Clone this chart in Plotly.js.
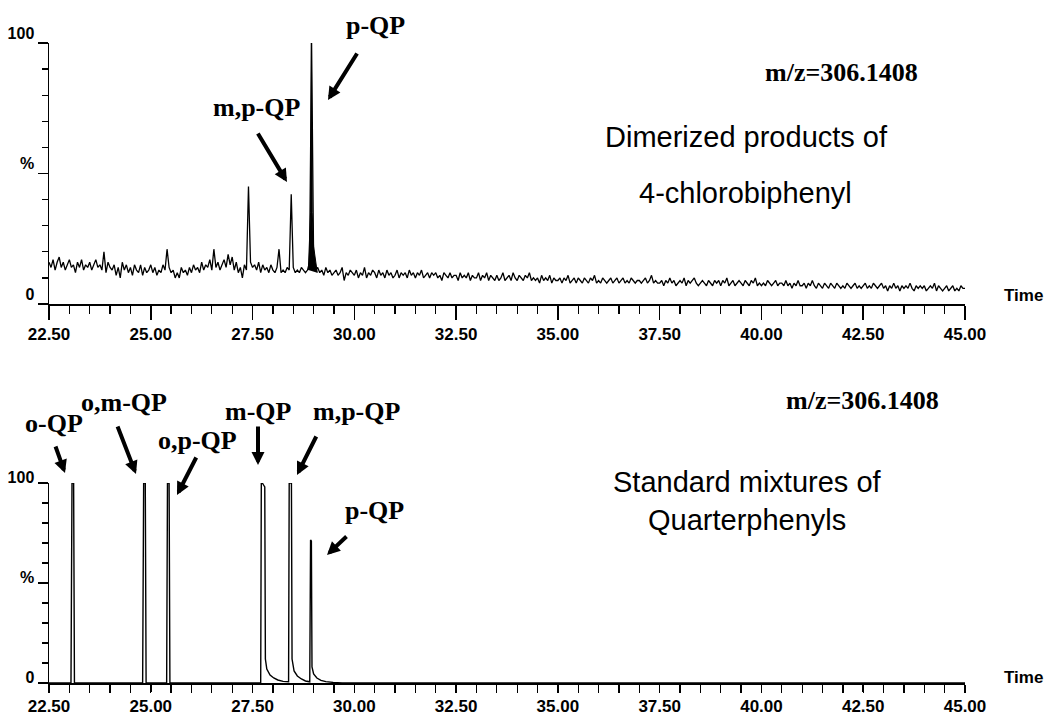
<!DOCTYPE html>
<html><head><meta charset="utf-8">
<script src="https://cdn.plot.ly/plotly-3.0.1.min.js"></script>
<style>html,body{margin:0;padding:0;background:#fff}#chart{width:1044px;height:717px}</style>
</head><body><div id="chart"></div>
<script>
// ---- data ----
const xTickVals = [22.5, 25, 27.5, 30, 32.5, 35, 37.5, 40, 42.5, 45];
const xTickText = ["22.50", "25.00", "27.50", "30.00", "32.50", "35.00", "37.50", "40.00", "42.50", "45.00"];
const yTickVals = [0, 50, 100];
const yTickText = ["0", "%", "100"];

// top chromatogram: sampled every 0.05 min from 22.50 to 45.00
const topStartTime = 22.5;
const topSampleStep = 0.05;
const topIntensity = [
16,14,17,13,16,18,14,16,13,15,
17,14,15,12,16,14,17,13,15,14,
16,13,15,17,14,15,13,20,12,16,
14,13,15,11,14,10,16,13,15,12,
14,11,15,13,12,15,11,14,12,13,
15,12,14,11,13,12,15,13,21,14,
12,13,10,12,10,14,12,13,11,14,
12,15,13,14,12,16,13,15,14,17,
13,21,14,16,13,15,17,14,19,15,
18,13,16,12,14,10,15,13,45,16,
14,15,13,16,12,15,13,14,12,15,
13,12,14,21,12,13,12,14,13,42,
14,12,13,12,14,13,12,13,16,100,
17,13,14,12,13,11,14,12,13,11,
12,13,11,12,14,9,12,11,13,12,
11,13,10,12,11,14,10,12,11,13,
12,10,13,11,12,10,13,11,12,10,
11,13,10,12,11,12,10,13,11,12,
10,12,11,13,10,11,12,10,12,11,
12,10,11,9,12,11,10,12,10,11,
11,9,12,10,11,10,12,9,11,10,
10,12,9,11,10,12,9,11,10,9,
11,9,10,12,9,10,11,9,12,10,
9,11,10,9,11,10,12,9,10,9,
10,8,11,9,10,9,11,8,10,9,
9,10,8,10,9,11,8,9,10,8,
10,9,8,10,9,8,10,9,11,8,
9,8,10,9,8,9,10,8,9,10,
8,9,10,8,9,8,10,9,8,9,
9,8,9,10,8,9,11,8,9,8,
8,9,7,9,8,10,8,9,7,8,
9,8,10,7,9,8,9,10,8,7,
8,9,8,7,9,8,7,9,8,9,
7,9,8,10,7,8,9,7,8,9,
8,7,9,8,7,9,8,10,7,8,
7,8,7,9,8,7,8,9,7,8,
8,7,9,7,8,6,8,7,9,7,
7,8,6,8,7,9,7,6,8,7,
6,8,7,6,8,7,6,8,7,6,
7,6,8,7,6,7,8,6,7,6,
7,8,6,7,6,8,7,6,7,8,
6,7,5,7,6,8,6,7,5,7,
6,7,6,8,6,5,7,6,7,6,
7,5,6,7,6,8,5,7,6,5,
6,7,5,6,7,5,6,5,7,6,
6
];
// filled base of the big p-QP peak in the top trace
const topPQPBaseTime = [28.87, 28.895, 28.925, 28.945, 28.965, 29.00, 29.09];
const topPQPBaseIntensity = [13, 22, 35, 100, 35, 22, 12];

// bottom chromatogram (standard mixture)
const bottomTime = [22.5, 23.04, 23.065, 23.105, 23.125,
  24.80, 24.825, 24.865, 24.885,
  25.39, 25.41, 25.45, 25.47,
  27.70, 27.715, 27.74, 27.77, 27.80, 27.815, 27.85, 27.93, 28.02, 28.12, 28.25, 28.385,
  28.40, 28.455, 28.47, 28.52, 28.60, 28.70, 28.80, 28.905,
  28.925, 28.945, 28.96, 29.00, 29.08, 29.18, 29.30, 29.48, 29.70, 45.0];
const bottomIntensity = [0, 0, 100, 100, 0,
  0, 100, 100, 0,
  0, 100, 100, 0,
  0, 100, 100, 99, 98, 12, 7, 4, 2.5, 1.5, 0.8, 0.6,
  100, 100, 12, 6, 3.5, 2, 1, 0.6,
  71.5, 71, 8, 4.5, 2.5, 1.3, 0.7, 0.3, 0, 0];

// ---- build ----
const topTime = topIntensity.map((_, i) => +(topStartTime + i * topSampleStep).toFixed(3));

const W = 1044, H = 717, L = 49, R = 79;
const PW = W - L - R;
const px = x => (x - L) / PW;
const py = y => 1 - y / H;

const traces = [
  {x: topTime, y: topIntensity, xaxis: 'x', yaxis: 'y', type: 'scatter', mode: 'lines',
   line: {color: '#000', width: 1.3}, hoverinfo: 'skip'},
  {x: topPQPBaseTime, y: topPQPBaseIntensity, xaxis: 'x', yaxis: 'y', type: 'scatter', mode: 'lines',
   fill: 'toself', fillcolor: '#000', line: {color: '#000', width: 1}, hoverinfo: 'skip'},
  {x: bottomTime, y: bottomIntensity, xaxis: 'x2', yaxis: 'y2', type: 'scatter', mode: 'lines',
   line: {color: '#000', width: 1.4}, hoverinfo: 'skip'}
];

const tickFont = {family: 'Liberation Sans, Arial, sans-serif', size: 17, color: '#000', weight: 'bold'};
function xAxis(anchor, len) {
  return {
    anchor: anchor, domain: [0, 1], range: [22.5, 45], showline: true, linecolor: '#000', linewidth: 1.5,
    ticks: 'outside', tickmode: 'array', tickvals: xTickVals, ticktext: xTickText, ticklen: len, tickwidth: 1.5,
    tickcolor: '#000', tickfont: tickFont, ticklabelstandoff: 0,
    minor: {ticks: 'outside', tick0: 22.5, dtick: 0.5, ticklen: 8, tickwidth: 1.3, tickcolor: '#000', showgrid: false},
    showgrid: false, zeroline: false, fixedrange: true
  };
}
// extra axis only for the long major tick marks of the lower panel
function majorTickAxis(anchor, over) {
  return {
    anchor: anchor, overlaying: over, domain: [0, 1], range: [22.5, 45], showline: false,
    ticks: 'outside', tickmode: 'array', tickvals: xTickVals, ticklen: 14, tickwidth: 1.5, tickcolor: '#000',
    showticklabels: false, showgrid: false, zeroline: false, fixedrange: true
  };
}
function yAxis(anchor, domain, shift) {
  return {
    anchor: anchor, domain: domain, range: [0, 100], showline: true, linecolor: '#000', linewidth: 1.5,
    ticks: 'outside', tickmode: 'array', tickvals: yTickVals, ticktext: yTickText, ticklen: 10, tickwidth: 1.5,
    tickcolor: '#000', tickfont: {family: 'Liberation Sans, Arial, sans-serif', size: 16, color: '#000', weight: 'bold'},
    ticklabelshift: shift, ticklabelstandoff: 0,
    minor: {ticks: 'outside', dtick: 10, ticklen: 6, tickwidth: 1.3, tickcolor: '#000', showgrid: false},
    showgrid: false, zeroline: false, fixedrange: true
  };
}

const serifBold = {family: 'Liberation Serif, Times New Roman, serif', size: 26, color: '#000', weight: 'bold'};
const sans29 = {family: 'Liberation Sans, Arial, sans-serif', size: 29, color: '#000'};
const sans17 = {family: 'Liberation Sans, Arial, sans-serif', size: 17, color: '#000', weight: 'bold'};

function label(text, cx, cy, font) {
  return {xref: 'paper', yref: 'paper', x: px(cx), y: py(cy), xanchor: 'center', yanchor: 'middle',
          text: text, showarrow: false, font: font};
}
function arrow(tx, ty, hx, hy) {
  return {xref: 'paper', yref: 'paper', x: px(hx), y: py(hy), axref: 'pixel', ayref: 'pixel',
          ax: tx - hx, ay: ty - hy, text: '', showarrow: true, arrowhead: 2, arrowsize: 0.65,
          arrowwidth: 4, arrowcolor: '#000', standoff: 0, startstandoff: 0};
}

const annotations = [
  // top panel
  label('p-QP', 375, 25, serifBold),
  label('m,p-QP', 257, 107, serifBold),
  label('m/z=306.1408', 841, 73, serifBold),
  label('Dimerized products of', 746, 137, sans29),
  label('4-chlorobiphenyl', 745, 193, sans29),
  label('Time', 1023, 295, sans17),
  arrow(358, 52, 328, 100),
  arrow(257, 132, 287, 182),
  // bottom panel
  label('o-QP', 54, 423, serifBold),
  label('o,m-QP', 124, 402, serifBold),
  label('o,p-QP', 197, 440, serifBold),
  label('m-QP', 258, 412, serifBold),
  label('m,p-QP', 357, 412, serifBold),
  label('p-QP', 374, 510, serifBold),
  label('m/z=306.1408', 862, 400, serifBold),
  label('Standard mixtures of', 747, 482, sans29),
  label('Quarterphenyls', 747, 520, sans29),
  label('Time', 1023, 677, sans17),
  arrow(55, 445, 65, 473),
  arrow(117, 425, 136, 474),
  arrow(197, 456, 177, 495),
  arrow(258, 425, 258, 465),
  arrow(317, 435, 297, 475),
  arrow(348, 535, 327, 555)
];

const layout = {
  width: W, height: H, margin: {l: L, r: R, t: 0, b: 0, pad: 0},
  paper_bgcolor: '#fff', plot_bgcolor: '#fff', showlegend: false, hovermode: false,
  xaxis: xAxis('y', 14),
  yaxis: yAxis('x', [1 - 304 / H, 1 - 43 / H], -10),
  xaxis2: xAxis('y2', 7),
  yaxis2: yAxis('x2', [1 - 683 / H, 1 - 483 / H], -6),
  xaxis3: majorTickAxis('y2', 'x2'),
  annotations: annotations
};

Plotly.newPlot('chart', traces, layout, {staticPlot: true, displayModeBar: false});
</script>
</body></html>
